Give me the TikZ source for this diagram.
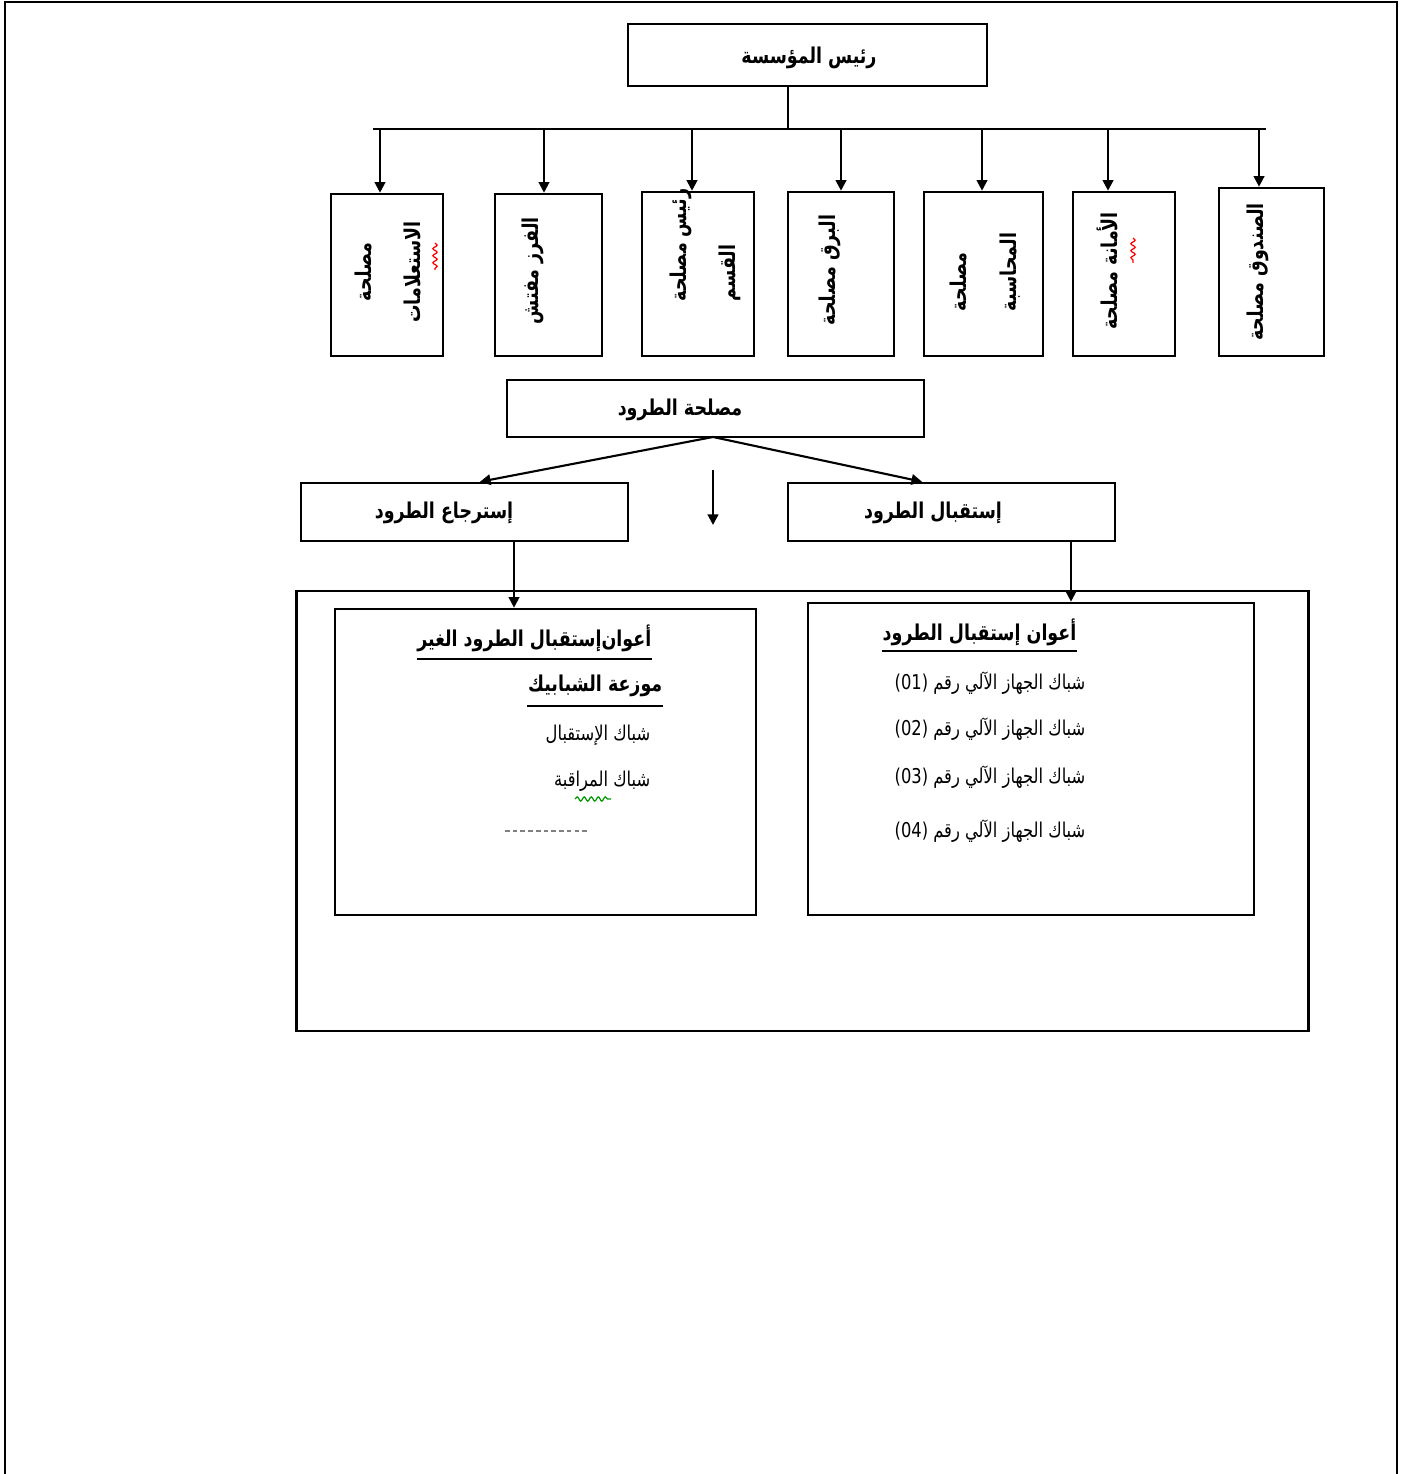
\documentclass[tikz,border=0pt]{standalone}
\usepackage{fontspec}
\newfontfamily\arabicfont[Script=Arabic, FakeStretch=0.8]{DejaVu Sans}
\TeXXeTstate=1
\usetikzlibrary{arrows.meta,decorations.pathmorphing}

\tikzset{
  box/.style={draw, line width=0.7pt, inner sep=0pt},
  title/.style={font=\arabicfont\bfseries\fontsize{6.2}{14}\selectfont, inner sep=0pt},
  vtitle/.style={title, rotate=90, align=center},
  item/.style={font=\arabicfont\fontsize{5.8}{8}\selectfont, inner sep=0pt, anchor=east},
  arr/.style={-{Triangle[length=3pt,width=3pt]}, line width=0.6pt},
  spell/.style={decorate, decoration={snake, segment length=2pt, amplitude=0.6pt}, line width=0.35pt},
}

\begin{document}
\begin{tikzpicture}[x=0.01cm, y=-0.01cm]
	\useasboundingbox (0,0) rectangle (1404,1474);
	% page frame, open at the bottom
	\draw[line width=0.6pt] (5,1474) -- (5,2) -- (1397,2) -- (1397,1474);
	
	% head of the establishment
	\node[box, minimum width=3.59cm, minimum height=0.62cm] (head) at (807.5,55) {};
	\node[title] (headtxt) at (809,58) {\beginR رئيس المؤسسة\endR};
	\coordinate (barL) at (373,129);
	\coordinate (barR) at (1266,129);
	\coordinate (stem) at (788,129);
	\draw[line width=0.6pt] (barL) -- (barR);
	\draw[line width=0.6pt] (head.south -| stem) -- (stem);
	
	% the seven services hanging from the bar
	\foreach \n/\cx/\cy/\w/\h/\ax in {1/387/275/1.12/1.62/380, 2/548.5/275/1.07/1.62/544,
		3/698/274/1.12/1.64/692, 4/841/274/1.06/1.64/841, 5/983.5/274/1.19/1.64/982,
		6/1124/274/1.02/1.64/1108, 7/1271.5/272/1.05/1.68/1259}{
		\node[box, minimum width=\w cm, minimum height=\h cm] (s\n) at (\cx,\cy) {};
		\coordinate (a\n) at (\ax,129);
		\draw[arr] (a\n) -- (a\n |- s\n.north);
	}
	\node[vtitle] (st1) at (388,272) {\beginR مصلحة\endR\\\beginR الاستعلامات\endR};
	\node[vtitle] (st2) at (533,271) {\beginR الفرز مفتش\endR};
	\node[vtitle, align=left] (st3) at (705,245) {\beginR رئيس مصلحة\endR\\\beginR القسم\endR};
	\node[vtitle] (st4) at (830,270) {\beginR البرق مصلحة\endR};
	\node[vtitle, align=left] (st5) at (985,272) {\beginR مصلحة\endR\\\beginR المحاسبة\endR};
	\node[vtitle] (st6) at (1107,271) {\beginR الأمانة مصلحة\endR};
	\node[vtitle] (st7) at (1258,272) {\beginR الصندوق مصلحة\endR};
	\draw[spell, red] (435,243) -- (435,270);
	\draw[spell, red] (1133,238) -- (1133,263);
	
	% parcels service and its two branches
	\node[box, minimum width=4.17cm, minimum height=0.57cm] (parcel) at (715.5,408.5) {};
	\node[title] (parceltxt) at (680,410) {\beginR مصلحة الطرود\endR};
	\node[box, minimum width=3.27cm, minimum height=0.58cm] (ret) at (464.5,512) {};
	\node[title] (rettxt) at (444,513) {\beginR إسترجاع الطرود\endR};
	\node[box, minimum width=3.27cm, minimum height=0.58cm] (rec) at (951.5,512) {};
	\node[title] (rectxt) at (933,513) {\beginR إستقبال الطرود\endR};
	\coordinate (fork) at (713,437);
	\draw[arr] (fork) -- (ret.north -| 480,0);
	\draw[arr] (fork) -- (rec.north -| 922,0);
	\coordinate (lone) at (713,470);
	\draw[arr] (lone) -- ++(0,55);
	
	% agents
	\node[box, minimum width=10.11cm, minimum height=4.40cm] (agents) at (802.5,811) {};
	\node[box, minimum width=4.21cm, minimum height=3.06cm] (left) at (545.5,762) {};
	\node[box, minimum width=4.46cm, minimum height=3.12cm] (right) at (1031,759) {};
	\draw[arr] (ret.south -| 514,0) -- (left.north -| 514,0);
	\draw[arr] (rec.south -| 1071,0) -- (right.north -| 1071,0);
	
	\node[title, anchor=east] (lt1) at (652,638) {\beginR أعوان‌إستقبال الطرود الغير\endR};
	\node[title, anchor=east] (lt2) at (663,686) {\beginR موزعة الشبابيك\endR};
	\draw[line width=0.6pt] (lt1.west |- 0,659) -- (lt1.east |- 0,659);
	\draw[line width=0.6pt] (lt2.west |- 0,706) -- (lt2.east |- 0,706);
	\node[item] (li1) at (651,735) {\beginR شباك  الإستقبال\endR};
	\node[item] (li2) at (651,781) {\beginR شباك المراقبة\endR};
	\draw[spell, green!60!black] (575,799) -- (611,799);
	\draw[dash pattern=on 1.3pt off 0.9pt, line width=0.35pt, gray] (505,831) -- (590,831);
	
	\node[title, anchor=east] (rt) at (1077,632) {\beginR أعوان إستقبال الطرود\endR};
	\draw[line width=0.6pt] (rt.west |- 0,651) -- (rt.east |- 0,651);
	\foreach \k/\y in {1/683, 2/729, 3/777, 4/831}
		\node[item] (ri\k) at (1086,\y) {\beginR شباك الجهاز الآلي رقم \beginL(0\k)\endL\endR};
\end{tikzpicture}
\end{document}
